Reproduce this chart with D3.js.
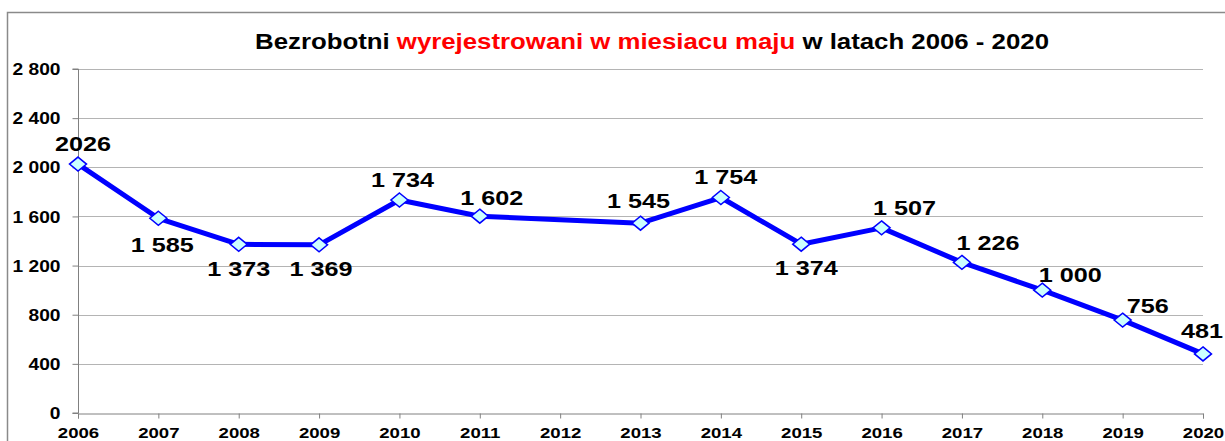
<!DOCTYPE html>
<html>
<head>
<meta charset="utf-8">
<script src="https://cdn.jsdelivr.net/npm/d3@7"></script>
<style>
  html, body { margin: 0; padding: 0; background: #fff; }
  svg { display: block; font-family: "Liberation Sans", Arial, sans-serif; font-weight: bold; }
</style>
</head>
<body>
<div id="chart"></div>
<script>
// dane: bezrobotni w maju (2012 brak punktu)
const years = ["2006", "2007", "2008", "2009", "2010", "2011", "2012", "2013", "2014", "2015", "2016", "2017", "2018", "2019", "2020"];
const values = [2026, 1585, 1373, 1369, 1734, 1602, null, 1545, 1754, 1374, 1507, 1226, 1000, 756, 481];
const valueLabels = ["2026", "1 585", "1 373", "1 369", "1 734", "1 602", "", "1 545", "1 754", "1 374", "1 507", "1 226", "1 000", "756", "481"];
const yTicks = [0, 400, 800, 1200, 1600, 2000, 2400, 2800];

// przesunięcia etykiet względem punktów [dx, dy]
const labelOffsets = [[5, -13], [4, 34], [0, 32], [2, 31], [3, -13], [12, -11], [0, 0], [-2, -15], [5, -14], [5, 31], [23, -13], [26, -12], [28, -8], [25, -7], [-1, -16]];

const width = 1225, height = 441;
const margin = { top: 69, right: 22, bottom: 28, left: 78 };
const sx = 1.2; // obraz jest rozciągnięty w poziomie

const svg = d3.select("#chart").append("svg").attr("width", width).attr("height", height);

// ramka
svg.append("path").attr("d", `M7.5,${height} V12.5 H${width}`)
    .attr("fill", "none").attr("stroke", "#8a8a8a").attr("stroke-width", 1.5);

const x = d3.scalePoint().domain(years).range([margin.left, width - margin.right]);
const y = d3.scaleLinear().domain([0, 2800]).range([height - margin.bottom, margin.top]);

// tytuł
const title = svg.append("text").attr("text-anchor", "middle").attr("font-size", 21.5)
    .attr("transform", `translate(652,49) scale(${sx},1)`);
title.append("tspan").attr("fill", "#000").text("Bezrobotni ");
title.append("tspan").attr("fill", "#ff0000").text("wyrejestrowani w miesiacu maju");
title.append("tspan").attr("fill", "#000").text(" w latach 2006 - 2020");

// linie siatki
svg.append("g").selectAll("line").data(yTicks.filter(d => d > 0)).join("line")
    .attr("x1", margin.left).attr("x2", width - margin.right)
    .attr("y1", d => Math.round(y(d)) + 0.5).attr("y2", d => Math.round(y(d)) + 0.5)
    .attr("stroke", "#b4b4b4").attr("stroke-width", 1);

// oś Y
const yAxis = svg.append("g").attr("transform", `translate(${margin.left + 0.5},0)`)
    .call(d3.axisLeft(y).tickValues(yTicks).tickSize(6).tickPadding(12)
        .tickFormat(d => d3.format(",")(d).replace(",", " ")));
yAxis.select(".domain").attr("stroke", "#808080").attr("d", `M-6,${y(2800)}H0V${y(0)}H-6`);
yAxis.selectAll(".tick line").attr("stroke", "#808080");
yAxis.selectAll(".tick text").attr("font-size", 16).attr("fill", "#000")
    .attr("transform", `scale(${sx},1)`).attr("x", -18 / sx).attr("dy", "0.35em");

// oś X
const xAxis = svg.append("g").attr("transform", `translate(0,${Math.round(y(0)) + 0.5})`)
    .call(d3.axisBottom(x).tickSize(5).tickPadding(9));
xAxis.select(".domain").attr("stroke", "#808080");
xAxis.selectAll(".tick line").attr("stroke", "#808080");
xAxis.selectAll(".tick text").attr("font-size", 15.5).attr("fill", "#000")
    .attr("transform", `scale(${sx},1)`).attr("x", 0);

// dane do rysowania
const points = years.map((yr, i) => ({ year: yr, value: values[i], label: valueLabels[i], off: labelOffsets[i] }))
    .filter(d => d.value !== null);

// linia
const line = d3.line().x(d => x(d.year)).y(d => y(d.value));
svg.append("path").datum(points).attr("fill", "none").attr("stroke", "#0000ff")
    .attr("stroke-width", 5).attr("stroke-linejoin", "round").attr("d", line);

// znaczniki (romby)
svg.append("g").selectAll("path").data(points).join("path")
    .attr("transform", d => `translate(${x(d.year)},${y(d.value)})`)
    .attr("d", "M0,-7 L8.5,0 L0,7 L-8.5,0 Z")
    .attr("fill", "#ccffff").attr("stroke", "#0000ff").attr("stroke-width", 1.5);

// etykiety wartości
svg.append("g").selectAll("text").data(points).join("text")
    .attr("text-anchor", "middle").attr("font-size", 21).attr("fill", "#000")
    .attr("transform", d => `translate(${x(d.year) + d.off[0]},${y(d.value) + d.off[1]}) scale(${sx},1)`)
    .text(d => d.label);
</script>
</body>
</html>
